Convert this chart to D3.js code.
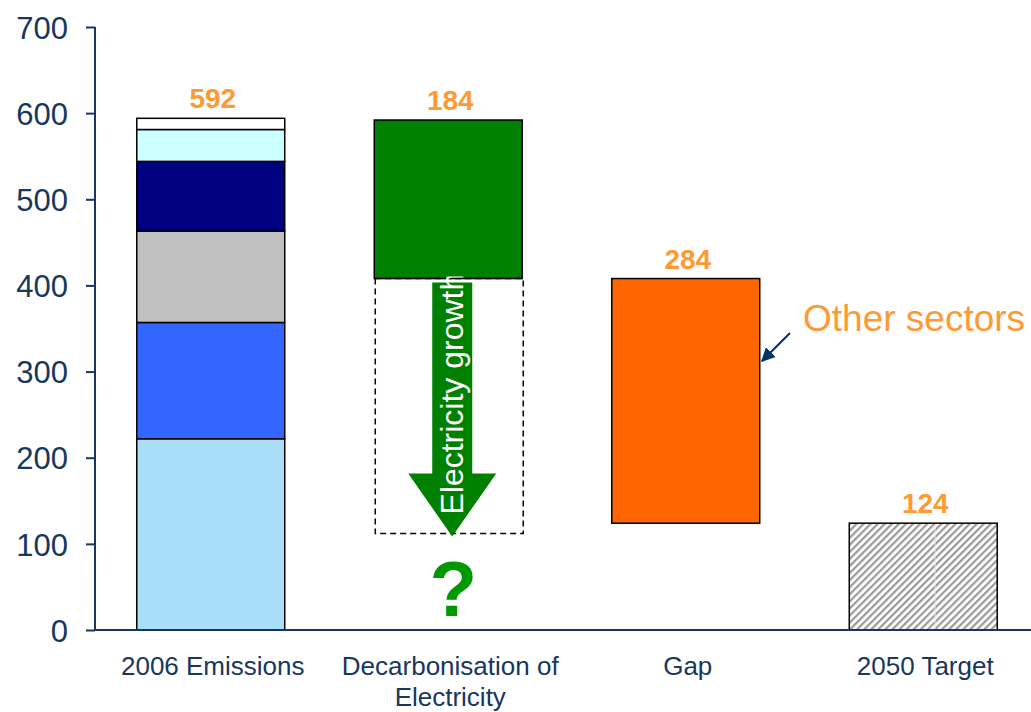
<!DOCTYPE html>
<html><head><meta charset="utf-8">
<script src="https://cdn.jsdelivr.net/npm/d3@7"></script>
<style>body{margin:0;background:#fff}svg{display:block}</style>
</head><body>
<script>
const categories = ["2006 Emissions", "Decarbonisation of|Electricity", "Gap", "2050 Target"];
const emissionSegments = [222, 135, 106, 81, 37, 13];
const segmentColors = ["#A9DEF9", "#3366FF", "#C0C0C0", "#000080", "#CCFFFF", "#FFFFFF"];
const totalEmissions = 592;
const decarbonisation = 184;
const gap = 284;
const target = 124;
const growthBottom = 112;
const yTicks = [0, 100, 200, 300, 400, 500, 600, 700];

const W = 1031, H = 712;
const svg = d3.select("body").append("svg").attr("width", W).attr("height", H);
const defs = svg.append("defs");
const pat = defs.append("pattern").attr("id", "hatch").attr("patternUnits", "userSpaceOnUse")
  .attr("width", 5).attr("height", 5).attr("patternTransform", "rotate(45)");
pat.append("rect").attr("width", 5).attr("height", 5).attr("fill", "#fff");
pat.append("rect").attr("width", 2.2).attr("height", 5).attr("fill", "#9a9a9a");

const y = d3.scaleLinear().domain([0, 700]).range([630, 27]);
const x = d3.scaleBand().domain(categories).range([92, 1042]).paddingInner(0.377).paddingOuter(0.1885);
const axisColor = "#17375E";
const orange = "#FF9933";

// y axis
const yAxis = svg.append("g").attr("transform", "translate(95,0)")
  .call(d3.axisLeft(y).tickValues(yTicks).tickSize(9).tickPadding(18));
yAxis.select(".domain").attr("stroke", axisColor).attr("stroke-width", 2).attr("d", `M0,${y(700)}V${y(0)}`);
yAxis.selectAll(".tick line").attr("stroke", axisColor).attr("stroke-width", 2);
yAxis.selectAll(".tick text").attr("fill", axisColor).attr("dy", "0.36em").style("font", "31px 'Liberation Sans', Arial, sans-serif");

// 2006 stacked
const c0 = categories[0];
let cum = 0;
const stack = emissionSegments.map((v, i) => { const s = {y0: cum, y1: cum + v, c: segmentColors[i]}; cum += v; return s; });
svg.append("g").selectAll("rect").data(stack).join("rect")
  .attr("x", x(c0)).attr("width", x.bandwidth())
  .attr("y", d => y(d.y1)).attr("height", d => y(d.y0) - y(d.y1))
  .attr("fill", d => d.c).attr("stroke", "#000").attr("stroke-width", 1.5);

// decarbonisation
const c1 = categories[1];
const decTop = totalEmissions, decBot = totalEmissions - decarbonisation;
svg.append("rect").attr("x", x(c1)).attr("width", x.bandwidth())
  .attr("y", y(decTop)).attr("height", y(decBot) - y(decTop))
  .attr("fill", "#008000").attr("stroke", "#000").attr("stroke-width", 1.5);
svg.append("rect").attr("x", x(c1) + 1).attr("width", x.bandwidth())
  .attr("y", y(decBot)).attr("height", y(growthBottom) - y(decBot))
  .attr("fill", "none").attr("stroke", "#000").attr("stroke-width", 1.5).attr("stroke-dasharray", "6,4");

// arrow
const ax = x(c1) + x.bandwidth() / 2 + 4;
const aTop = y(decBot) + 4, aTip = y(growthBottom) + 3, headLen = 63, shaftW = 20, headW = 44;
svg.append("path").attr("fill", "#008000")
  .attr("d", `M${ax - shaftW},${aTop}H${ax + shaftW}V${aTip - headLen}H${ax + headW}L${ax},${aTip}L${ax - headW},${aTip - headLen}H${ax - shaftW}Z`);
svg.append("clipPath").attr("id", "clipA").append("rect")
  .attr("x", ax - 40).attr("y", y(decBot) - 2).attr("width", 80).attr("height", 400);
svg.append("g").attr("clip-path", "url(#clipA)").append("text")
  .attr("transform", `translate(${ax + 11},${y(decBot) + 236}) rotate(-90)`)
  .attr("fill", "#fff").style("font", "32px 'Liberation Sans', Arial, sans-serif")
  .text("Electricity growth");
svg.append("text").attr("x", ax + 1).attr("y", 616).attr("text-anchor", "middle")
  .attr("fill", "#009900").style("font", "bold 78px 'Liberation Sans', Arial, sans-serif").text("?");

// gap
const c2 = categories[2];
const gapTop = decBot, gapBot = decBot - gap;
svg.append("rect").attr("x", x(c2)).attr("width", x.bandwidth())
  .attr("y", y(gapTop)).attr("height", y(gapBot) - y(gapTop))
  .attr("fill", "#FF6600").attr("stroke", "#000").attr("stroke-width", 1.5);

// target
const c3 = categories[3];
svg.append("rect").attr("x", x(c3)).attr("width", x.bandwidth())
  .attr("y", y(target)).attr("height", y(0) - y(target))
  .attr("fill", "url(#hatch)").attr("stroke", "#000").attr("stroke-width", 1.5);
svg.append("line").attr("x1", x(c3) + x.bandwidth() * 0.58).attr("x2", x(c3) + x.bandwidth() * 0.58)
  .attr("y1", y(target) + 1).attr("y2", y(0) - 1).attr("stroke", "#e4e4e4").attr("stroke-width", 1);

// x axis line
svg.append("line").attr("x1", 95).attr("x2", W).attr("y1", y(0)).attr("y2", y(0))
  .attr("stroke", axisColor).attr("stroke-width", 2);

// value labels
const valueLabels = [
  {c: c0, v: totalEmissions, top: totalEmissions + 2},
  {c: c1, v: decarbonisation, top: decTop},
  {c: c2, v: gap, top: gapTop},
  {c: c3, v: target, top: target}
];
svg.append("g").selectAll("text").data(valueLabels).join("text")
  .attr("x", d => x(d.c) + x.bandwidth() / 2 + 2).attr("y", d => y(d.top) - 10)
  .attr("text-anchor", "middle").attr("fill", orange)
  .style("font", "bold 28px 'Liberation Sans', Arial, sans-serif").text(d => d.v);

// category labels
const cat = svg.append("g").selectAll("text").data(categories).join("text")
  .attr("x", d => x(d) + x.bandwidth() / 2 + 2).attr("y", 675)
  .attr("text-anchor", "middle").attr("fill", axisColor)
  .style("font", "26px 'Liberation Sans', Arial, sans-serif");
cat.each(function(d) {
  const parts = d.split("|");
  const t = d3.select(this);
  parts.forEach((p, i) => t.append("tspan").attr("x", t.attr("x")).attr("dy", i ? 31 : 0).text(p));
});

// Other sectors annotation
svg.append("text").attr("x", 803).attr("y", 331).attr("fill", orange)
  .style("font", "37px 'Liberation Sans', Arial, sans-serif").text("Other sectors");
defs.append("marker").attr("id", "ah").attr("viewBox", "0 0 10 10").attr("refX", 9).attr("refY", 5)
  .attr("markerWidth", 7).attr("markerHeight", 7).attr("orient", "auto")
  .append("path").attr("d", "M0,0L10,5L0,10Z").attr("fill", "#003366");
svg.append("line").attr("x1", 790).attr("y1", 333).attr("x2", 762).attr("y2", 361)
  .attr("stroke", "#003366").attr("stroke-width", 2).attr("marker-end", "url(#ah)");
</script>
</body></html>
